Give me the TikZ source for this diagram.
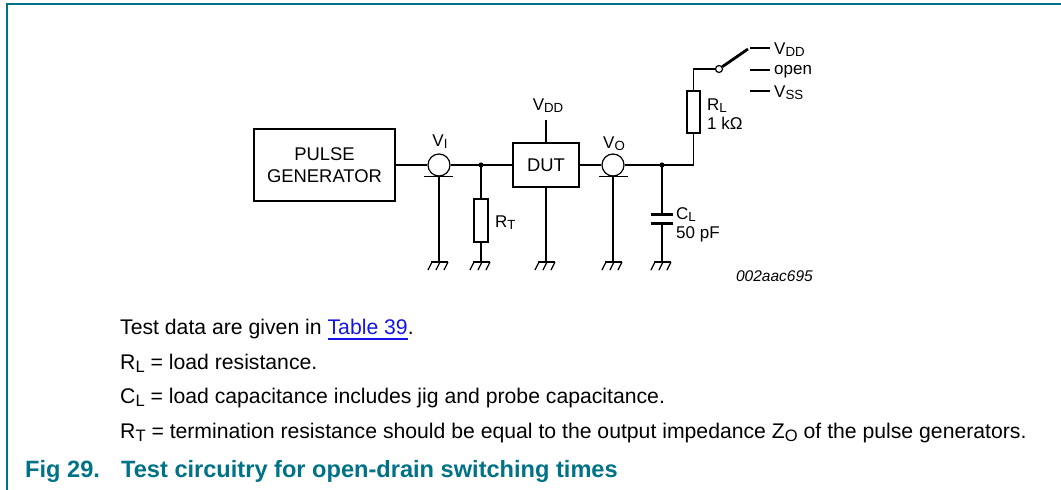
\documentclass[tikz,border=0pt]{standalone}
\usepackage{fontspec}
\usepackage{graphicx}
\setmainfont{Liberation Sans}
\usetikzlibrary{calc,positioning}
\definecolor{figteal}{RGB}{0,114,135}
\definecolor{linkblue}{RGB}{20,20,230}
\def\lowsub#1{\raisebox{-0.16em}{\scalebox{0.78}{#1}}}
\def\linkline#1{\setbox0\hbox{#1}\rlap{\rule[-5.5pt]{\wd0}{1.8pt}}\box0}
\def\gnd(#1){\draw[wire] ($(#1)+(-8,0)$) -- ($(#1)+(9,0)$);
	\foreach \h in {-7,1,9} {\draw[wire] ($(#1)+(\h,0)$) -- ($(#1)+(\h-4,8)$);}}
\tikzset{
	wire/.style={line width=1.2pt},
	unitbox/.style={draw, line width=2.4pt, inner sep=0pt},
	part/.style={draw, line width=1.2pt, inner sep=0pt, fill=white},
	probe/.style={draw, circle, line width=1.2pt, inner sep=0pt, minimum size=22pt},
	boxtext/.style={font=\fontsize{18.4}{22}\selectfont, align=center},
	lbl/.style={font=\fontsize{17}{19}\selectfont, inner sep=0pt, anchor=base west},
	bodytext/.style={font=\fontsize{21.2}{24}\selectfont, inner sep=0pt, anchor=base west},
	figtext/.style={font=\fontsize{23.6}{26}\selectfont\bfseries, text=figteal, inner sep=0pt, anchor=base west},
}

\begin{document}
\begin{tikzpicture}[x=1pt,y=-1pt]
	%%%%% START %%%%%
	\useasboundingbox (0,0) rectangle (1061,490);
	\draw[figteal, line width=1.6pt] (7,490) -- (7,4) -- (1061,4);
	
	% boxes and probes
	\node[unitbox, boxtext, minimum width=141pt, minimum height=72pt] (pg) at (324.5,165) {PULSE\\GENERATOR};
	\node[unitbox, boxtext, minimum width=66pt, minimum height=44pt] (dut) at (546,165) {DUT};
	\node[probe] (vi) at (439,165) {};
	\node[probe] (vo) at (613,165) {};
	\node[lbl, anchor=base] (vilbl) at (440,146) {V\lowsub{I}};
	\node[lbl, anchor=base] (volbl) at (614,148) {V\lowsub{O}};
	
	\coordinate (jt) at (481,165);
	\coordinate (jc) at (662,165);
	\coordinate (gi) at (439,262);
	\coordinate (gt) at (481,262);
	\coordinate (gd) at (546,262);
	\coordinate (go) at (613,262);
	\coordinate (gc) at (662,262);
	
	% input side
	\draw[wire] (pg.east) -- (vi.west);
	\draw[wire] (vi.east) -- (jt) -- (dut.west);
	\draw[wire] ($(vi.south)+(-15,0)$) -- ($(vi.south)+(14,0)$);
	\draw[wire] (vi.south) -- (gi);
	\fill (jt) circle (2.6);
	\node[part, minimum width=14pt, minimum height=43pt] (rt) at (481,220.5) {};
	\draw[wire] (jt) -- (rt.north);
	\draw[wire] (rt.south) -- (gt);
	\node[lbl] (rtlbl) at (495,227) {R\lowsub{T}};
	
	% supply of the DUT
	\coordinate (vddpin) at (546,120);
	\draw[wire] (dut.north) -- (vddpin);
	\node[lbl, anchor=base] (vddlbl) at (548,110) {V\lowsub{DD}};
	\draw[wire] (dut.south) -- (gd);
	
	% output side
	\coordinate (rlfoot) at (693.5,165);
	\node[part, minimum width=13pt, minimum height=42pt] (rl) at (693.5,112) {};
	\draw[wire] (dut.east) -- (vo.west);
	\draw[wire] (vo.east) -- (jc) -- (rlfoot) -- (rl.south);
	\draw[wire] ($(vo.south)+(-14,0)$) -- ($(vo.south)+(15,0)$);
	\draw[wire] (vo.south) -- (go);
	\fill (jc) circle (2.6);
	
	\coordinate (cltop) at (662,214);
	\coordinate (clbot) at (662,223);
	\draw[wire] (jc) -- (cltop);
	\draw[wire] (clbot) -- (gc);
	\draw[line width=3pt] ($(cltop)+(-11,0)$) -- ($(cltop)+(11,0)$);
	\draw[line width=3pt] ($(clbot)+(-11,0)$) -- ($(clbot)+(11,0)$);
	\node[lbl] (cllbl) at (676,219) {C\lowsub{L}};
	\node[lbl] (clval) at (676,238) {50 pF};
	
	% load switch
	\coordinate (rlcorner) at (693.5,69);
	\coordinate (blade) at (748,49);
	\node[part, circle, minimum size=7pt] (sw) at (719,69) {};
	\draw[wire] (rl.north) -- (rlcorner) -- (sw.west);
	\draw[line width=2.8pt, shorten <=4pt] (sw.center) -- (blade);
	\node[lbl] (rllbl) at (707,110) {R\lowsub{L}};
	\node[lbl] (rlval) at (707,129) {1 kΩ};
	
	\node[lbl] (ovdd) at (774,54) {V\lowsub{DD}};
	\node[lbl] (oopen) at (774,74.5) {open};
	\node[lbl] (ovss) at (774,97) {V\lowsub{SS}};
	\coordinate (tvdd) at (750,48);
	\coordinate (topen) at (750,70);
	\coordinate (tvss) at (750,91);
	\draw[wire, shorten >=4pt] (tvdd) -- (tvdd -| ovdd.west);
	\draw[wire, shorten >=4pt] (topen) -- (topen -| oopen.west);
	\draw[wire, shorten >=4pt] (tvss) -- (tvss -| ovss.west);
	
	% grounds
	\gnd(gi)
	\gnd(gt)
	\gnd(gd)
	\gnd(go)
	\gnd(gc)
	
	\node[font=\fontsize{15.5}{18}\selectfont\itshape, inner sep=0pt, anchor=base east] (code) at (813,281.5) {002aac695};
	
	% notes and caption
	\node[bodytext] (note1) at (120,334) {Test data are given in {\color{linkblue}\linkline{Table 39}}.};
	\node[bodytext] (note2) at (120,369) {R\lowsub{L} = load resistance.};
	\node[bodytext] (note3) at (120,403.5) {C\lowsub{L} = load capacitance includes jig and probe capacitance.};
	\node[bodytext] (note4) at (120,438) {R\lowsub{T} = termination resistance should be equal to the output impedance Z\lowsub{O} of the pulse generators.};
	\node[figtext] (fignum) at (25,477) {Fig 29.};
	\node[figtext] (figtitle) at (121,477) {Test circuitry for open-drain switching times};
	
	%%%%% END %%%%%
\end{tikzpicture}
\end{document}
